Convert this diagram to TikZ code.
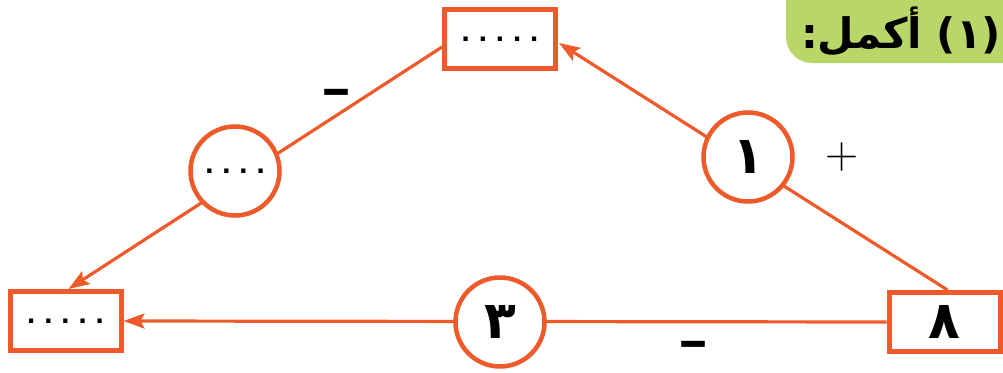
\documentclass[tikz,border=0pt]{standalone}
\usepackage{fontspec}
\usepackage{graphicx}
\TeXXeTstate=1
\newfontfamily\arabicfont[Script=Arabic]{DejaVu Sans}
\newfontfamily\dejavu{DejaVu Sans}
\usetikzlibrary{arrows.meta,calc}
\definecolor{org}{RGB}{238,90,42}
\definecolor{lgreen}{RGB}{184,215,104}
\begin{document}
\begin{tikzpicture}[x=1pt,y=-1pt,
 boxnode/.style={draw=org,line width=5pt,fill=white,minimum width=111pt,minimum height=59pt,inner sep=0pt},
 circnode/.style={circle,draw=org,line width=4.5pt,fill=white,minimum size=89pt,inner sep=0pt},
 conn/.style={draw=org,line width=3.2pt,-{Stealth[length=21pt,width=15pt,inset=4pt]}},
 dotfont/.style={font=\dejavu\bfseries\fontsize{24}{24}\selectfont},
 digit/.style={font=\arabicfont\bfseries\fontsize{52}{52}\selectfont},
 sign/.style={font=\dejavu\bfseries\fontsize{48}{48}\selectfont,inner sep=0pt},
 plussign/.style={font=\fontsize{46}{46}\selectfont},
 titlefont/.style={font=\arabicfont\bfseries\fontsize{42}{42}\selectfont},
]
\useasboundingbox (0,0) rectangle (1003,372);
\fill[lgreen, rounded corners=26pt] (786,-40) rectangle (1060,63);
\node[titlefont, text=black] (title) at (901,31) {\beginR(١) أكمل:\endR};
% boxes
\node[boxnode, dotfont] (t) at (500,39) {.\hspace{8pt}.\hspace{8pt}.\hspace{8pt}.\hspace{8pt}.};
\node[boxnode, dotfont] (bl) at (65.5,321) {.\hspace{8pt}.\hspace{8pt}.\hspace{8pt}.\hspace{8pt}.};
\node[boxnode, digit] (br) at (944.5,322) {\beginR ٨\endR};
% connectors
\draw[conn] ($(br.north)+(3,0)$) -- ($(t.east)+(1,4)$);
\draw[conn] ($(t.west)+(0,8)$) -- ($(bl.north)+(3,0)$);
\draw[conn] (br.west) -- (bl.east);
% circles
\node[circnode, dotfont] (cl) at (235,171) {.\hspace{8pt}.\hspace{8pt}.\hspace{8pt}.};
\node[circnode, digit] (cr) at (748,157) {\beginR ١\endR};
\node[circnode, digit] (cb) at (500,322) {\beginR ٣\endR};
% signs
\node[sign] (m1) at (336,97.5) {\scalebox{1.25}[1]{–}};
\node[sign] (m2) at (693,349.5) {\scalebox{1.25}[1]{–}};
\node[plussign] (p1) at (842,157) {+};
\end{tikzpicture}
\end{document}
